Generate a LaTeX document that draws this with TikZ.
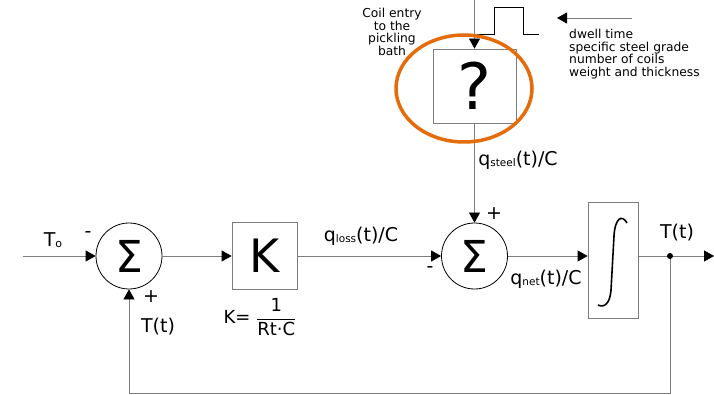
\documentclass[tikz,border=0pt]{standalone}
\usepackage{amsmath}
\usepackage{fontspec}
\setmainfont{DejaVu Sans}
\usepackage{xcolor}
\usetikzlibrary{arrows.meta,positioning}
\definecolor{ringorange}{RGB}{228,108,10}
\definecolor{wire}{RGB}{125,125,125}

\begin{document}
\begin{tikzpicture}[
    x=1pt, y=-1pt,
    >={Triangle[length=10pt,width=11pt,color=black]},
    sumnode/.style={draw, circle, thick, minimum size=66pt, inner sep=0pt, font=\fontsize{44}{44}\selectfont},
    block/.style={draw=wire, thick, inner sep=0pt},
    link/.style={->, draw=wire, thick},
    lbl/.style={font=\fontsize{19}{21}\selectfont, inner sep=1pt},
    note/.style={font=\fontsize{12.3}{12.6}\selectfont, inner sep=0pt}
]
\useasboundingbox (0,0) rectangle (714,395);

% blocks
\node[sumnode] (sumA) at (129,256) {Σ};
\node[block, minimum width=65pt, minimum height=67pt, font=\fontsize{46}{46}\selectfont] (gain) at (264.5,256) {K};
\node[sumnode] (sumB) at (474.5,256) {Σ};
\node[block, minimum width=50pt, minimum height=116pt] (integ) at (613,260) {};
\node[block, minimum width=83pt, minimum height=74pt, font=\fontsize{64}{64}\selectfont] (unknown) at (474.5,86) {?};

% end points
\coordinate (in) at (23,256);
\coordinate (out) at (714,256);
\coordinate (tap) at (670,256);
\coordinate (low) at (670,393);
\coordinate (top) at (474.5,0);
\coordinate (dwellA) at (632,18);
\coordinate (dwellB) at (557,18);

% signal path
\draw[link] (in) -- (sumA.west);
\draw[link] (sumA.east) -- (gain.west);
\draw[link] (gain.east) -- (sumB.west);
\draw[link] (sumB.east) -- (sumB.east -| integ.west);
\draw[link] (integ.east |- tap) -- (out);
\draw[link] (tap) -- (low) -| (sumA.south);
\fill (tap) circle (3pt);
\draw[link] (top) -- (unknown.north);
\draw[link] (unknown.south) -- (sumB.north);
\draw[link] (dwellA) -- (dwellB);

% integral sign and pulse
\draw[line width=1.6pt] (627,223) .. controls (622,214) and (615,218) .. (614,236)
    -- (611,290) .. controls (610,304) and (604,308) .. (598,305);
\draw[thick] (474.5,34) -- (494,34) -- (494,7) -- (523,7) -- (523,34) -- (539,34);

% highlight
\draw[ringorange, line width=3.5pt] (464,88.5) ellipse (68pt and 53.5pt);

% labels
\node[lbl] (tzero) at (53,240) {T\raisebox{-1pt}{\fontsize{11}{11}\selectfont o}};
\node[lbl] (minA) at (88,235) {-};
\node[lbl] (plusA) at (151,297) {+};
\node[lbl] (tfb) at (158,327) {T(t)};
\node[lbl, font=\fontsize{18}{20}\selectfont] (kdef) at (260,317) {K= $\dfrac{\text{1}}{\text{Rt·C}}$};
\node[lbl] (qloss) at (361,236) {q\raisebox{-1pt}{\fontsize{10.5}{11}\selectfont loss}(t)/C};
\node[lbl] (qsteel) at (518,160) {q\raisebox{-1pt}{\fontsize{10.5}{11}\selectfont steel}(t)/C};
\node[lbl] (plusB) at (494,214) {+};
\node[lbl] (minB) at (430,270) {-};
\node[lbl] (qnet) at (546,279) {q\raisebox{-1pt}{\fontsize{10.5}{11}\selectfont net}(t)/C};
\node[lbl] (tout) at (677,233) {T(t)};
\node[note, align=center] (coil) at (392,32) {Coil entry\\to the\\pickling\\bath};
\node[note, align=left, anchor=west] (dwell) at (569,54) {dwell time\\specific steel grade\\number of coils\\weight and thickness};
\end{tikzpicture}
\end{document}
